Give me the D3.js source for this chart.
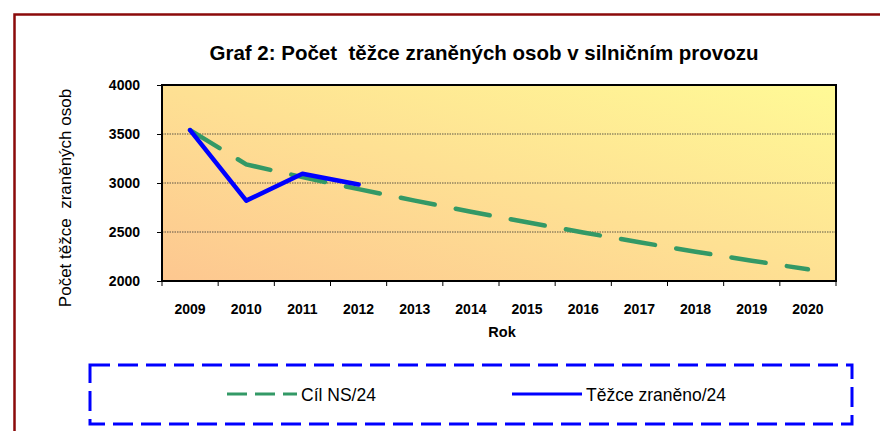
<!DOCTYPE html>
<html>
<head>
<meta charset="utf-8">
<script src="https://cdn.jsdelivr.net/npm/d3@7"></script>
<style>
  body { margin: 0; background: #fff; }
  text { font-family: Arial, "Liberation Sans", sans-serif; }
</style>
</head>
<body>
<div id="chart"></div>
<script>
// data
var years = ["2009", "2010", "2011", "2012", "2013", "2014", "2015", "2016", "2017", "2018", "2019", "2020"];
var cilNS = [3540, 3190, 3060, 2937, 2820, 2707, 2599, 2495, 2395, 2299, 2207, 2119];
var tezceZraneno = [3540, 2820, 3095, 2985];
var yTicks = [2000, 2500, 3000, 3500, 4000];

var width = 880, height = 431;
var margin = {left: 162, top: 85, right: 836, bottom: 281};
var font = "Arial, 'Liberation Sans', sans-serif";

var svg = d3.select("#chart").append("svg")
    .attr("width", width).attr("height", height);

// outer frame
svg.append("rect")
    .attr("x", 14.5).attr("y", 14.5)
    .attr("width", 900).attr("height", 500)
    .attr("fill", "#fff")
    .attr("stroke", "#8b0a0a").attr("stroke-width", 2.5);

var defs = svg.append("defs");
var grad = defs.append("linearGradient").attr("id", "bg")
    .attr("x1", 0).attr("y1", 1).attr("x2", 1).attr("y2", 0);
grad.append("stop").attr("offset", "0%").attr("stop-color", "#fdc790");
grad.append("stop").attr("offset", "100%").attr("stop-color", "#fffa96");

var x = d3.scaleBand().domain(years).range([margin.left, margin.right]);
var y = d3.scaleLinear().domain([2000, 4000]).range([margin.bottom, margin.top]);

svg.append("rect")
    .attr("x", margin.left).attr("y", margin.top)
    .attr("width", margin.right - margin.left).attr("height", margin.bottom - margin.top)
    .attr("fill", "url(#bg)");

// gridlines
svg.append("g").selectAll("line")
    .data(yTicks.filter(function(d) { return d > 2000 && d < 4000; }))
    .enter().append("line")
    .attr("x1", margin.left).attr("x2", margin.right)
    .attr("y1", function(d) { return y(d); }).attr("y2", function(d) { return y(d); })
    .attr("stroke", "#333").attr("stroke-width", 0.8)
    .attr("stroke-dasharray", "1.5,1");

// axes
var yAxis = svg.append("g")
    .attr("transform", "translate(" + margin.left + ",0)")
    .call(d3.axisLeft(y).tickValues(yTicks).tickSize(5).tickPadding(17).tickFormat(d3.format("d")));
yAxis.select(".domain").remove();
yAxis.selectAll("text").attr("font-size", 14).attr("font-weight", "bold").attr("fill", "#000")
    .attr("font-family", font);

var xAxis = svg.append("g")
    .attr("transform", "translate(0," + margin.bottom + ")")
    .call(d3.axisBottom(x).tickSize(0).tickPadding(23));
xAxis.select(".domain").remove();
xAxis.selectAll("text").attr("font-size", 14).attr("font-weight", "bold").attr("fill", "#000")
    .attr("font-family", font);

// tick marks between categories
svg.append("g").selectAll("line")
    .data(years.concat(["end"]))
    .enter().append("line")
    .attr("x1", function(d, i) { return margin.left + i * x.step(); })
    .attr("x2", function(d, i) { return margin.left + i * x.step(); })
    .attr("y1", margin.bottom).attr("y2", margin.bottom + 5)
    .attr("stroke", "#000").attr("stroke-width", 1);

// plot border
svg.append("rect")
    .attr("x", margin.left).attr("y", margin.top)
    .attr("width", margin.right - margin.left).attr("height", margin.bottom - margin.top)
    .attr("fill", "none").attr("stroke", "#000").attr("stroke-width", 2);

var line = d3.line()
    .x(function(d, i) { return x(years[i]) + x.bandwidth() / 2; })
    .y(function(d) { return y(d); });

svg.append("path").datum(cilNS)
    .attr("d", line)
    .attr("fill", "none").attr("stroke", "#339966").attr("stroke-width", 4.5)
    .attr("stroke-linecap", "round")
    .attr("stroke-dasharray", "34.5,21.5");

svg.append("path").datum(tezceZraneno)
    .attr("d", line)
    .attr("fill", "none").attr("stroke", "#0000ff").attr("stroke-width", 4.5)
    .attr("stroke-linejoin", "round").attr("stroke-linecap", "round");

// titles
svg.append("text")
    .attr("x", 484).attr("y", 60)
    .attr("text-anchor", "middle").attr("font-size", 20.5).attr("font-weight", "bold")
    .style("white-space", "pre")
    .text("Graf 2: Počet  těžce zraněných osob v silničním provozu");

svg.append("text")
    .attr("x", 502).attr("y", 337)
    .attr("text-anchor", "middle").attr("font-size", 14.5).attr("font-weight", "bold")
    .text("Rok");

svg.append("text")
    .attr("transform", "translate(71,198) rotate(-90)")
    .attr("text-anchor", "middle").attr("font-size", 17)
    .style("white-space", "pre")
    .text("Počet těžce  zraněných osob");

// legend
svg.append("rect")
    .attr("x", 90).attr("y", 365)
    .attr("width", 762).attr("height", 59)
    .attr("fill", "#fff")
    .attr("stroke", "#0000ff").attr("stroke-width", 3)
    .attr("stroke-dasharray", "20,8");

var legendItems = [
    {label: "Cíl NS/24", color: "#339966", dash: "20,8", x: 227},
    {label: "Těžce zraněno/24", color: "#0000ff", dash: null, x: 512}
];
var lg = svg.append("g").selectAll("g").data(legendItems).enter().append("g")
    .attr("transform", function(d) { return "translate(" + d.x + ",394)"; });
lg.append("line")
    .attr("x1", 0).attr("x2", 70).attr("y1", 0).attr("y2", 0)
    .attr("stroke", function(d) { return d.color; }).attr("stroke-width", 3)
    .attr("stroke-dasharray", function(d) { return d.dash; });
lg.append("text")
    .attr("x", 74).attr("y", 7)
    .attr("font-size", 17.5)
    .text(function(d) { return d.label; });
</script>
</body>
</html>
